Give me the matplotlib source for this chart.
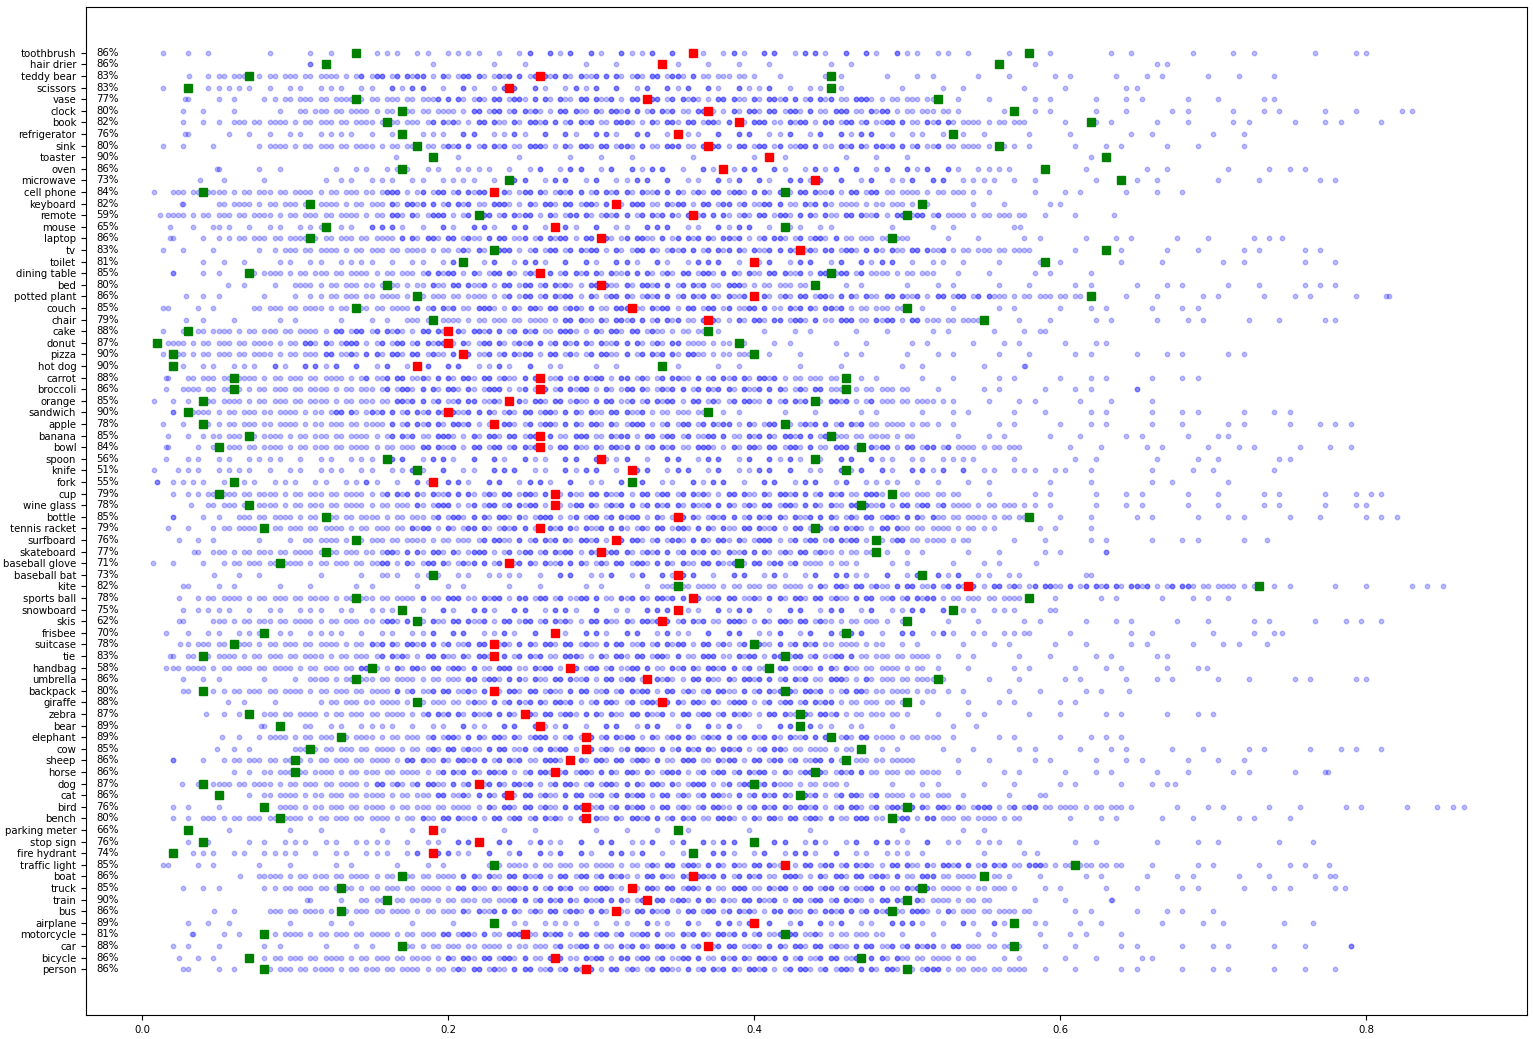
import numpy as np
import matplotlib
matplotlib.use('Agg')
import matplotlib.pyplot as plt

# categories from bottom (y=0) to top
categories = ['person', 'bicycle', 'car', 'motorcycle', 'airplane', 'bus', 'train', 'truck', 'boat',
	'traffic light', 'fire hydrant', 'stop sign', 'parking meter', 'bench', 'bird', 'cat', 'dog',
	'horse', 'sheep', 'cow', 'elephant', 'bear', 'zebra', 'giraffe', 'backpack', 'umbrella',
	'handbag', 'tie', 'suitcase', 'frisbee', 'skis', 'snowboard', 'sports ball', 'kite',
	'baseball bat', 'baseball glove', 'skateboard', 'surfboard', 'tennis racket', 'bottle',
	'wine glass', 'cup', 'fork', 'knife', 'spoon', 'bowl', 'banana', 'apple', 'sandwich', 'orange',
	'broccoli', 'carrot', 'hot dog', 'pizza', 'donut', 'cake', 'chair', 'couch', 'potted plant',
	'bed', 'dining table', 'toilet', 'tv', 'laptop', 'mouse', 'remote', 'keyboard', 'cell phone',
	'microwave', 'oven', 'toaster', 'sink', 'refrigerator', 'book', 'clock', 'vase', 'scissors',
	'teddy bear', 'hair drier', 'toothbrush']

percent = [86, 86, 88, 81, 89, 86, 90, 85, 86, 85, 74, 76, 66, 80, 76, 86, 87, 86, 86, 85,
	89, 89, 87, 88, 80, 86, 58, 83, 78, 70, 62, 75, 78, 82, 73, 71, 77, 76, 79, 85,
	78, 79, 55, 51, 56, 84, 85, 78, 90, 85, 86, 88, 90, 90, 87, 88, 79, 85, 86, 80,
	85, 81, 83, 86, 65, 59, 82, 84, 73, 86, 90, 80, 76, 82, 80, 77, 83, 83, 86, 86]

mean_val = [.29, .27, .37, .25, .40, .31, .33, .32, .36, .42, .19, .22, .19, .29, .29, .24, .22,
	.27, .28, .29, .29, .26, .25, .34, .23, .33, .28, .23, .23, .27, .34, .35, .36, .54, .35,
	.24, .30, .31, .26, .35, .27, .27, .19, .32, .30, .26, .26, .23, .20, .24, .26, .26, .18,
	.21, .20, .20, .37, .32, .40, .30, .26, .40, .43, .30, .27, .36, .31, .23, .44, .38, .41,
	.37, .35, .39, .37, .33, .24, .26, .34, .36]

low_val = [.08, .07, .17, .08, .23, .13, .16, .13, .17, .23, .02, .04, .03, .09, .08, .05, .04,
	.10, .10, .11, .13, .09, .07, .18, .04, .14, .15, .04, .06, .08, .18, .17, .14, .35, .19,
	.09, .12, .14, .08, .12, .07, .05, .06, .18, .16, .05, .07, .04, .03, .04, .06, .06, .02,
	.02, .01, .03, .19, .14, .18, .16, .07, .21, .23, .11, .12, .22, .11, .04, .24, .17, .19,
	.18, .17, .16, .17, .14, .03, .07, .12, .14]

high_val = [.50, .47, .57, .42, .57, .49, .50, .51, .55, .61, .36, .40, .35, .49, .50, .43, .40,
	.44, .46, .47, .45, .43, .43, .50, .42, .52, .41, .42, .40, .46, .50, .53, .58, .73, .51,
	.39, .48, .48, .44, .58, .47, .49, .32, .46, .44, .47, .45, .42, .37, .44, .46, .46, .34,
	.40, .39, .37, .55, .50, .62, .44, .45, .59, .63, .49, .42, .50, .51, .42, .64, .59, .63,
	.56, .53, .62, .57, .52, .45, .45, .56, .58]

# spread of the per-image scores: outer min, dense start, dense end, outer max, density (1-3)
dot_min = [.027, .024, .02, .033, .03, .047, .108, .027, .064, .014, .02, .03, .03, .02, .02, .05,
	.026, .06, .02, .049, .052, .078, .042, .056, .027, .027, .016, .018, .025, .016, .024, .027,
	.024, .027, .047, .007, .034, .024, .017, .02, .032, .02, .01, .008, .016, .016, .017, .014,
	.02, .008, .016, .016, .02, .014, .01, .014, .029, .014, .029, .056, .02, .04, .014, .018,
	.018, .012, .026, .008, .038, .049, .166, .014, .028, .027, .027, .028, .014, .031, .11, .014]
dot_lo = [.08, .075, .17, .086, .23, .08, .14, .08, .08, .23, .04, .08, .056, .042, .086, .074,
	.047, .08, .05, .10, .075, .11, .075, .12, .045, .11, .02, .03, .03, .03, .05, .03, .04, .34,
	.16, .05, .045, .11, .045, .06, .04, .03, .02, .03, .03, .05, .04, .04, .03, .04, .03, .03,
	.02, .02, .01, .03, .17, .07, .11, .10, .068, .09, .085, .056, .05, .012, .045, .018, .13,
	.12, .28, .074, .083, .056, .10, .08, .05, .05, .23, .14]
dot_hi = [.58, .54, .58, .49, .60, .58, .55, .57, .57, .64, .50, .58, .44, .58, .64, .53, .46,
	.52, .50, .46, .52, .48, .50, .50, .52, .52, .51, .52, .49, .58, .49, .58, .58, .73, .58,
	.47, .49, .54, .55, .58, .58, .53, .52, .61, .54, .58, .50, .52, .37, .53, .50, .46, .28,
	.40, .39, .37, .55, .50, .61, .44, .52, .54, .58, .50, .45, .58, .50, .54, .58, .58, .53,
	.57, .55, .58, .53, .52, .46, .40, .46, .54]
dot_max = [.78, .66, .79, .64, .765, .70, .634, .786, .78, .776, .585, .765, .55, .75, .864, .59,
	.675, .775, .72, .81, .64, .545, .70, .61, .645, .80, .696, .67, .735, .745, .81, .597, .71,
	.85, .62, .584, .63, .735, .62, .82, .80, .81, .71, .74, .75, .79, .71, .79, .75, .66, .65,
	.69, .577, .72, .63, .59, .78, .69, .815, .78, .62, .78, .77, .745, .574, .635, .60, .68,
	.78, .76, .63, .72, .72, .81, .83, .74, .65, .74, .67, .80]
density = [3, 3, 3, 3, 2, 3, 3, 3, 3, 3, 2, 2, 1, 3, 3, 3, 3, 3, 3, 3, 3, 2, 3, 3, 3, 3, 3, 3, 3,
	2, 3, 2, 3, 3, 2, 3, 3, 3, 3, 3, 3, 3, 2, 2, 2, 3, 3, 3, 3, 3, 3, 3, 2, 3, 3, 3, 3, 3, 3,
	3, 3, 2, 3, 3, 2, 3, 3, 3, 2, 2, 1, 3, 2, 3, 3, 3, 2, 3, 1, 2]

score_grid = np.arange(0, 0.87, 1 / 300.)
core_stride = {1: 6, 2: 2, 3: 1}
tail_stride = {1: 12, 2: 4, 3: 3}
# on/off patterns so the dots are not perfectly evenly spaced
core_keep = np.array([1, 1, 0, 1, 1, 1, 0, 1, 1, 0, 1, 1, 1, 1, 0, 1, 0], dtype = bool)
tail_keep = np.array([1, 0, 1, 1, 0, 0, 1, 0, 1, 0, 0, 1, 1, 0, 0], dtype = bool)
dark_keep = np.array([1, 0, 1, 1, 0, 1, 0, 0, 1, 1, 1, 0, 0, 1, 0, 1, 1, 0, 1], dtype = bool)


def keepPattern(pts, pattern, shift):
	mask = np.resize(np.roll(pattern, shift), len(pts))
	return pts[mask]


fig = plt.figure(figsize = (15.33, 10.39), dpi = 100)
ax = fig.add_axes([0.0561, 0.0231, 0.9400, 0.9702])

for i in range(len(categories)):
	d = density[i]
	core = score_grid[(score_grid >= dot_lo[i]) & (score_grid <= dot_hi[i])][::core_stride[d]]
	tail = score_grid[((score_grid >= dot_min[i]) & (score_grid < dot_lo[i])) |
		((score_grid > dot_hi[i]) & (score_grid <= dot_max[i]))][::tail_stride[d]]
	core = keepPattern(core, core_keep, i * 3)
	tail = keepPattern(tail, tail_keep, i * 5)
	pts = np.concatenate([core, tail, [dot_min[i], dot_max[i]]])
	ax.plot(pts, np.full(len(pts), i), 'o', color = 'blue', alpha = 0.25, markersize = 3.2)
	if d >= 2:
		span = dot_hi[i] - dot_lo[i]
		mid = core[(core >= dot_lo[i] + 0.25 * span) & (core <= dot_hi[i] - 0.1 * span)]
		mid = keepPattern(mid, dark_keep, i * 7)
		ax.plot(mid, np.full(len(mid), i), 'o', color = 'blue', alpha = 0.3, markersize = 3.2)

y = np.arange(len(categories))
ax.plot(low_val, y, 's', color = 'green', markersize = 5.5, zorder = 5)
ax.plot(high_val, y, 's', color = 'green', markersize = 5.5, zorder = 5)
ax.plot(mean_val, y, 's', color = 'red', markersize = 5.5, zorder = 5)

for i in range(len(categories)):
	ax.text(-0.03, i, '{0}%'.format(percent[i]), va = 'center', ha = 'left', fontsize = 7.3)

ax.set_yticks(y)
ax.set_yticklabels(categories, fontsize = 7.3)
ax.set_xticks([0.0, 0.2, 0.4, 0.6, 0.8])
ax.tick_params(axis = 'x', labelsize = 7.3)
ax.set_xlim(-0.0366, 0.9052)
ax.set_ylim(-3.95, 82.95)

plt.savefig('out.png', dpi = 100)
